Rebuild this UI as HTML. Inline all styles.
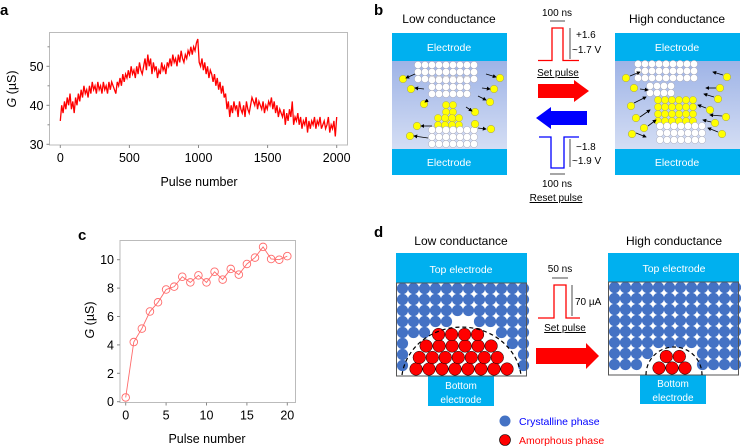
<!DOCTYPE html>
<html><head><meta charset="utf-8"><style>
body{margin:0;background:#fff}
svg{display:block;font-family:"Liberation Sans",Arial,sans-serif}
</style></head><body>
<svg id="s" width="741" height="447" viewBox="0 0 741 447">
<defs>
<linearGradient id="gb" x1="0" y1="0" x2="0" y2="1"><stop offset="0" stop-color="#8da6e2"/><stop offset="1" stop-color="#e4eaf8"/></linearGradient>
<marker id="ah" markerWidth="5" markerHeight="5" refX="4" refY="2.5" orient="auto"><path d="M0,0L5,2.5L0,5z" fill="#000"/></marker>
</defs>
<g>
<text x="0" y="15" font-size="15" font-weight="bold">a</text>
<rect x="49.5" y="32.5" width="298" height="112.5" fill="none" stroke="#bbb"/>
<g id="axA"></g><polyline id="lineA" fill="none" stroke="#f00" stroke-width="1.3"/>
<text x="199" y="186" font-size="12.5" text-anchor="middle">Pulse number</text>
<text transform="translate(16,89) rotate(-90)" font-size="12.5" text-anchor="middle"><tspan font-style="italic">G</tspan> (µS)</text>
</g>
<g>
<text x="78" y="240" font-size="15" font-weight="bold">c</text>
<rect x="120" y="240.5" width="175.5" height="162" fill="none" stroke="#bbb"/>
<g id="axC"></g><polyline id="lineC" fill="none" stroke="#ff6b6b" stroke-width="0.9"/><g id="ptsC"></g>
<text x="207" y="443" font-size="12.5" text-anchor="middle">Pulse number</text>
<text transform="translate(94,320) rotate(-90)" font-size="12.5" text-anchor="middle"><tspan font-style="italic">G</tspan> (µS)</text>
</g>
<g>
<text x="374" y="15" font-size="15" font-weight="bold">b</text>
<text x="449" y="23" font-size="12" text-anchor="middle">Low conductance</text>
<text x="677" y="23" font-size="12" text-anchor="middle">High conductance</text>
<rect x="392" y="33" width="115" height="142" fill="url(#gb)"/>
<rect x="392" y="33" width="115" height="28" fill="#00b0ef"/><rect x="392" y="149" width="115" height="26" fill="#00b0ef"/>
<text x="449" y="51" font-size="10.5" fill="#fff" text-anchor="middle">Electrode</text><text x="449" y="166" font-size="10.5" fill="#fff" text-anchor="middle">Electrode</text>
<rect x="615" y="33" width="125" height="142" fill="url(#gb)"/>
<rect x="615" y="33" width="125" height="28" fill="#00b0ef"/><rect x="615" y="149" width="125" height="26" fill="#00b0ef"/>
<text x="677" y="51" font-size="10.5" fill="#fff" text-anchor="middle">Electrode</text><text x="677" y="166" font-size="10.5" fill="#fff" text-anchor="middle">Electrode</text>
<g id="atomsB"></g>
<polyline points="538,60.5 552,60.5 552,28 563,28 563,60.5 579,60.5" fill="none" stroke="#f00" stroke-width="1.3"/>
<line x1="550" y1="21" x2="565" y2="21" stroke="#000" stroke-width="0.7"/>
<text x="557" y="16" font-size="10" text-anchor="middle">100 ns</text>
<line x1="570" y1="28" x2="570" y2="59" stroke="#000" stroke-width="0.7"/>
<text x="576" y="38" font-size="10">+1.6</text><text x="572" y="53" font-size="10">~1.7 V</text>
<text x="558" y="76" font-size="10" text-anchor="middle" text-decoration="underline">Set pulse</text>
<polygon points="538,84 574,84 574,80 589,91 574,102 574,98 538,98" fill="#f00"/>
<polygon points="587,111 551,111 551,107 536,118 551,129 551,125 587,125" fill="#00f"/>
<polyline points="539,137 551,137 551,168 564,168 564,137 579,137" fill="none" stroke="#00f" stroke-width="1.3"/>
<line x1="570" y1="139" x2="570" y2="167" stroke="#000" stroke-width="0.7"/>
<text x="576" y="150" font-size="10">−1.8</text><text x="572" y="164" font-size="10">~1.9 V</text>
<line x1="550" y1="174" x2="565" y2="174" stroke="#000" stroke-width="0.7"/>
<text x="557" y="187" font-size="10" text-anchor="middle">100 ns</text>
<text x="556" y="201" font-size="10" text-anchor="middle" text-decoration="underline">Reset pulse</text>
</g>
<g>
<text x="374" y="237" font-size="15" font-weight="bold">d</text>
<text x="461" y="245" font-size="12" text-anchor="middle">Low conductance</text>
<text x="674" y="245" font-size="12" text-anchor="middle">High conductance</text>
<rect x="396" y="253" width="131" height="30" fill="#00b0ef"/><text x="461" y="273" font-size="10.5" fill="#fff" text-anchor="middle">Top electrode</text>
<rect x="608" y="253" width="131" height="29" fill="#00b0ef"/><text x="674" y="272" font-size="10.5" fill="#fff" text-anchor="middle">Top electrode</text>
<rect x="428" y="376" width="66" height="30" fill="#00b0ef"/><text x="461" y="389" font-size="10" fill="#fff" text-anchor="middle">Bottom</text><text x="461" y="403" font-size="10" fill="#fff" text-anchor="middle">electrode</text>
<rect x="640" y="375" width="66" height="29" fill="#00b0ef"/><text x="673" y="387" font-size="10" fill="#fff" text-anchor="middle">Bottom</text><text x="673" y="401" font-size="10" fill="#fff" text-anchor="middle">electrode</text>
<g id="atomsD"></g>
<rect x="396.5" y="283" width="130" height="93" fill="none" stroke="#555" stroke-width="1"/>
<rect x="608.5" y="282" width="130" height="93" fill="none" stroke="#555" stroke-width="1"/>
<path d="M402,375 A60,55 0 0 1 521,375" fill="none" stroke="#000" stroke-width="1.2" stroke-dasharray="4,3"/>
<path d="M646,375 A28,28 0 0 1 702,375" fill="none" stroke="#000" stroke-width="1.2" stroke-dasharray="4,3"/>
<polyline points="538,318 554,318 554,285 566,285 566,318 580,318" fill="none" stroke="#f00" stroke-width="1.3"/>
<line x1="552" y1="278" x2="568" y2="278" stroke="#000" stroke-width="0.7"/>
<text x="560" y="272" font-size="10" text-anchor="middle">50 ns</text>
<line x1="572" y1="285" x2="572" y2="316" stroke="#000" stroke-width="0.7"/>
<text x="575" y="305" font-size="10">70 µA</text>
<text x="565" y="331" font-size="10" text-anchor="middle" text-decoration="underline">Set pulse</text>
<polygon points="536,348 586,348 586,343 599,356 586,369 586,364 536,364" fill="#f00"/>
<circle cx="505" cy="421" r="5.5" fill="#4472c4"/>
<text x="519" y="425" font-size="10.5" fill="#00f">Crystalline phase</text>
<circle cx="505" cy="440" r="5.5" fill="#f00" stroke="#000" stroke-width="0.6"/>
<text x="519" y="444" font-size="10.5" fill="#f00">Amorphous phase</text>
</g>
</svg>
<script>
const aXTicks=[0,500,1000,1500,2000];
const aYTicks=[30,40,50];
const aValues=[36,40,38,41,39,42,40,43,39,41,38,42,40,43,41,44,42,45,43,44,42,45,43,46,44,45,43,46,44,45,43,46,44,45,43,46,44,46,45,44,43,46,45,47,45,48,46,48,47,49,47,50,48,49,47,50,48,51,49,48,50,52,49,53,50,52,48,51,49,50,47,49,48,51,49,50,48,51,50,52,50,53,51,52,50,53,51,54,52,51,53,52,54,53,55,53,55,54,56,57,51,50,52,49,51,48,50,47,49,48,46,48,45,47,44,46,43,45,42,43,39,41,37,40,38,41,39,40,37,41,39,38,40,37,41,39,38,40,42,41,40,42,39,41,40,39,41,38,40,39,41,40,42,39,41,38,40,37,39,38,37,39,35,38,36,39,37,41,35,37,36,38,35,37,34,36,35,37,33,36,34,36,35,37,34,36,35,37,34,35,36,34,35,37,33,35,34,36,32,37];
const cXTicks=[0,5,10,15,20];
const cYTicks=[0,2,4,6,8,10];
const cValues=[0.3,4.2,5.15,6.35,7.0,7.9,8.1,8.8,8.4,8.9,8.4,9.15,8.6,9.35,8.95,9.7,10.15,10.9,10.05,10.0,10.25];
const NS='http://www.w3.org/2000/svg';
function mk(t,a,p){const e=document.createElementNS(NS,t);for(const k in a)e.setAttribute(k,a[k]);p.appendChild(e);return e;}
const ax=v=>60.3+v*(336.7-60.3)/2000, ay=v=>144.3-(v-30)*3.9;
const cx=v=>125.7+v*(287.3-125.7)/20, cy=v=>401.7-v*14.2;
function axes(g,xt,yt,fx,fy,x0,y0,minor){
  const G=document.getElementById(g);
  xt.forEach(t=>{mk('line',{x1:fx(t),x2:fx(t),y1:y0,y2:y0+3,stroke:'#888'},G);const e=mk('text',{x:fx(t),y:y0+17,'font-size':12.5,'text-anchor':'middle'},G);e.textContent=t;});
  yt.forEach(t=>{mk('line',{x1:x0-3,x2:x0,y1:fy(t),y2:fy(t),stroke:'#888'},G);const e=mk('text',{x:x0-6,y:fy(t)+4.5,'font-size':12.5,'text-anchor':'end'},G);e.textContent=t;});
  minor.forEach(t=>mk('line',{x1:x0-2,x2:x0,y1:fy(t),y2:fy(t),stroke:'#888'},G));
}
axes('axA',aXTicks,aYTicks,ax,ay,49.5,145,[35,45,55]);
axes('axC',cXTicks,cYTicks,cx,cy,120,402.5,[]);
document.getElementById('lineA').setAttribute('points',aValues.map((v,i)=>ax(i*2000/(aValues.length-1))+','+ay(v)).join(' '));
document.getElementById('lineC').setAttribute('points',cValues.map((v,i)=>cx(i)+','+cy(v)).join(' '));
const P=document.getElementById('ptsC');
cValues.forEach((v,i)=>{const c=mk('circle',{cx:cx(i),cy:cy(v),r:3.8,fill:'none',stroke:'#ff6b6b','stroke-width':0.9},P);});
const D=document.getElementById('atomsD');
function grid(x0,y0,w,h,inside){for(let y=y0+5.5;y<y0+h;y+=11)for(let x=x0+5.5;x<x0+w;x+=11){if(!inside(x,y))mk('circle',{cx:x,cy:y,r:5.6,fill:'#4472c4'},D);}}
grid(397,283,130,93,(x,y)=>((x-461.5)/60)**2+((y-376)/55)**2<1);
grid(609,282,130,93,(x,y)=>((x-674)/29)**2+((y-375)/29)**2<1);
function reds(cxx,cyy,rx,ry){for(let y=cyy-7;y>cyy-ry;y-=11.5){const hw=rx*Math.sqrt(1-((cyy-y)/ry)**2);const off=((cyy-y)/11.5)%2?5:0;for(let x=cxx-hw+7+off;x<cxx+hw-6;x+=13)mk('circle',{cx:x,cy:y,r:6.3,fill:'#f00',stroke:'#000','stroke-width':0.5},D);}}
reds(461.5,376,58,52);reds(674,375,28,26);
const B=document.getElementById('atomsB');
function wblob(x0,x1,y0,y1){for(let y=y0;y<y1;y+=7)for(let x=x0;x<x1;x+=7)mk('circle',{cx:x,cy:y,r:3.6,fill:'#fff',stroke:'#99a',"stroke-width":0.4},B);}
function yblob(x0,x1,y0,y1){for(let y=y0;y<y1;y+=7)for(let x=x0;x<x1;x+=7)mk('circle',{cx:x,cy:y,r:3.6,fill:'#ff0',stroke:'#996','stroke-width':0.4},B);}
wblob(418,480,65,80);wblob(432,470,80,100);yblob(446,460,105,125);yblob(438,465,118,128);wblob(432,480,130,148);
wblob(638,700,64,82);wblob(650,675,86,100);yblob(658,695,100,124);wblob(660,705,126,147);
const yel=[[403,79],[411,89],[424,104],[417,126],[410,136],[500,78],[494,89],[490,102],[475,112],[491,129],[475,124],[626,78],[634,88],[631,106],[636,118],[644,128],[632,134],[727,77],[720,88],[718,99],[710,110],[726,117],[715,123],[722,134]];
yel.forEach(p=>mk('circle',{cx:p[0],cy:p[1],r:3.8,fill:'#ff0',stroke:'#996','stroke-width':0.5},B));
[[415,74,406,78],[424,89,415,88],[428,100,425,102],[432,126,421,126],[428,138,414,136],[486,74,496,77],[482,88,490,89],[478,96,486,100],[466,107,472,111],[478,128,486,129],[630,76,640,72],[640,89,648,90],[634,103,646,97],[640,117,650,110],[648,126,656,120],[636,133,646,137],[723,75,713,72],[716,88,706,88],[714,97,704,94],[706,108,698,105],[722,116,710,115],[711,122,703,120],[718,132,708,128]].forEach(l=>mk('line',{x1:l[0],y1:l[1],x2:l[2],y2:l[3],stroke:'#000','stroke-width':0.8,'marker-end':'url(#ah)'},B));
</script>
</body></html>
